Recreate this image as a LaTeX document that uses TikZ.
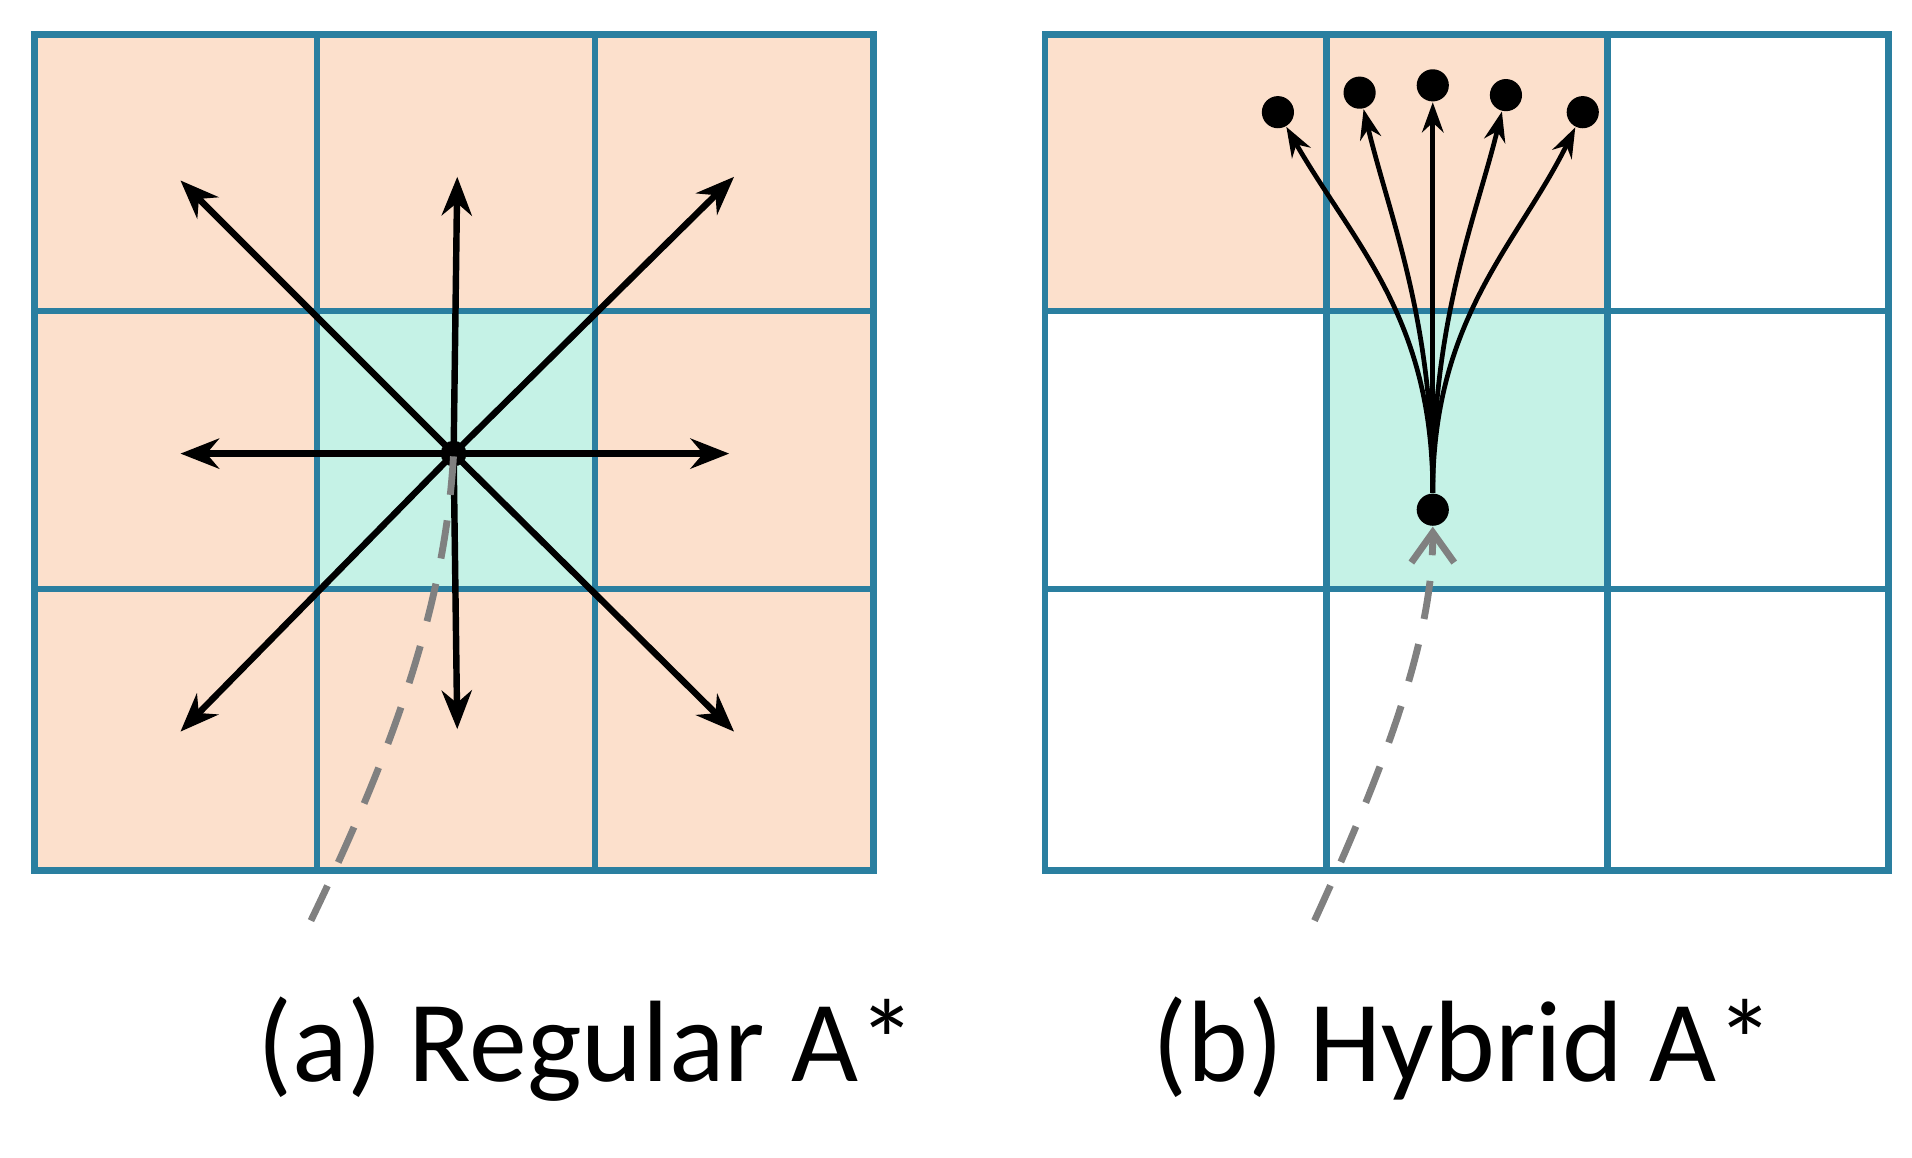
\documentclass[tikz,border=0pt]{standalone}
\usepackage{fontspec}
\setmainfont{Carlito}
\usetikzlibrary{arrows.meta}
\definecolor{peach}{HTML}{FCE0CC}
\definecolor{mint}{HTML}{C5F2E6}
\definecolor{gridc}{HTML}{2A7FA0}
\begin{document}
\begin{tikzpicture}[x=0.01cm,y=-0.01cm,
  grid/.style={draw=gridc,line width=1.6pt},
  arr/.style={-{Stealth[length=9pt,width=7pt]},line width=1.5pt},
  farr/.style={-{Stealth[length=7pt,width=5pt]},line width=1.1pt},
  trail/.style={dash pattern=on 9pt off 6pt,line width=1.6pt,gray},
  dot/.style={circle,fill=black,inner sep=0pt,minimum size=7.5pt},
  caption/.style={font=\fontsize{27}{30}\selectfont}]
\useasboundingbox (0,0) rectangle (1568,949);
% left grid
\fill[peach] (28,28) rectangle (716,714);
\fill[mint] (260,255) rectangle (488,483);
\draw[grid] (28,28) rectangle (716,714);
\draw[grid] (260,28)--(260,714) (488,28)--(488,714) (28,255)--(716,255) (28,483)--(716,483);
% right grid
\fill[peach] (857,28) rectangle (1318,255);
\fill[mint] (1088,255) rectangle (1318,483);
\draw[grid] (857,28) rectangle (1549,714);
\draw[grid] (1088,28)--(1088,714) (1318,28)--(1318,714) (857,255)--(1549,255) (857,483)--(1549,483);
% left arrows
\coordinate (c) at (372,372);
\foreach \n/\x/\y in {a/148/148,b/375/145,d/602/145,e/148/372,f/598/372,g/148/600,h/375/598,i/602/600}{
  \coordinate (\n) at (\x,\y);
  \draw[arr] (c) -- (\n);}
\fill (c) circle (3pt);
\coordinate (ls) at (255,755);
\draw[trail] (ls) .. controls (320,620) and (365,500) .. (c);
% right
\node[dot] (s) at (1175,418) {};
\node[dot] (t1) at (1048,92) {};
\node[dot] (t2) at (1115,76) {};
\node[dot] (t3) at (1175,70) {};
\node[dot] (t4) at (1235,78) {};
\node[dot] (t5) at (1298,92) {};
\draw[farr] (s.north) .. controls (1175,260) and (1110,200) .. (t1);
\draw[farr] (s.north) .. controls (1175,260) and (1140,180) .. (t2);
\draw[farr] (s.north) .. controls (1175,260) and (1175,180) .. (t3);
\draw[farr] (s.north) .. controls (1175,260) and (1210,180) .. (t4);
\draw[farr] (s.north) .. controls (1175,260) and (1245,200) .. (t5);
\coordinate (rs) at (1078,755);
\draw[trail,-{Straight Barb[length=7pt,width=10pt]}] (rs) .. controls (1140,620) and (1175,520) .. (s.south);
% captions
\node[caption] (la) at (481,860) {(a) Regular A*};
\node[caption] (lb) at (1200,860) {(b) Hybrid A*};
\end{tikzpicture}
\end{document}
